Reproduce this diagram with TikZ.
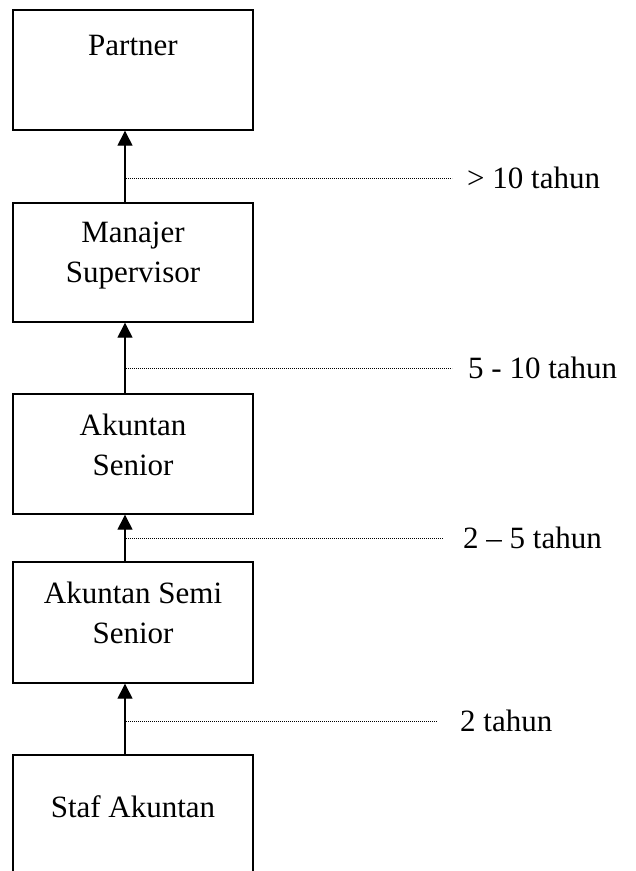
\documentclass[tikz,border=0pt]{standalone}
\usepackage{fontspec}
\setmainfont{Liberation Serif}
\usetikzlibrary{arrows.meta}
\begin{document}
\begin{tikzpicture}[x=1pt,y=-1pt,
  box/.style={draw, line width=1.4pt, rectangle, inner sep=0pt},
  txt/.style={anchor=base, inner sep=0pt, font=\fontsize{31}{40}\selectfont},
  lbl/.style={anchor=base west, inner sep=0pt, font=\fontsize{31}{40}\selectfont},
  arr/.style={line width=1.4pt, -{Triangle[width=15pt,length=15pt]}},
  dot/.style={line width=1pt, dash pattern=on 1.2pt off 0.8pt}]
\useasboundingbox (0,0) rectangle (636,871);
\clip (0,0) rectangle (636,871);
\fill[white] (0,0) rectangle (636,871);
% boxes
\node[box, minimum width=240pt, minimum height=120pt] (p) at (133,70) {};
\node[box, minimum width=240pt, minimum height=119pt] (m) at (133,262.5) {};
\node[box, minimum width=240pt, minimum height=120pt] (s) at (133,454) {};
\node[box, minimum width=240pt, minimum height=121pt] (ss) at (133,622.5) {};
\node[box, minimum width=240pt, minimum height=150pt] (st) at (133,830) {};
% texts
\node[txt] (tp) at (133,55) {Partner};
\node[txt] (tm1) at (133,242) {Manajer};
\node[txt] (tm2) at (133,282) {Supervisor};
\node[txt] (ts1) at (133,435) {Akuntan};
\node[txt] (ts2) at (133,475) {Senior};
\node[txt] (tss1) at (133,603) {Akuntan Semi};
\node[txt] (tss2) at (133,643) {Senior};
\node[txt] (tst) at (133,817) {Staf Akuntan};
% arrows
\coordinate (ax) at (125,0);
\draw[arr] (m.north -| ax) -- (p.south -| ax);
\draw[arr] (s.north -| ax) -- (m.south -| ax);
\draw[arr] (ss.north -| ax) -- (s.south -| ax);
\draw[arr] (st.north -| ax) -- (ss.south -| ax);
% dotted lines and labels
\coordinate (d1s) at (124,178); \coordinate (d1e) at (452,178);
\coordinate (d2s) at (124,368); \coordinate (d2e) at (452,368);
\coordinate (d3s) at (124,538); \coordinate (d3e) at (443,538);
\coordinate (d4s) at (124,721); \coordinate (d4e) at (437,721);
\draw[dot] (d1s) -- (d1e);
\draw[dot] (d2s) -- (d2e);
\draw[dot] (d3s) -- (d3e);
\draw[dot] (d4s) -- (d4e);
\node[lbl] (l1) at (467,188) {>\ 10 tahun};
\node[lbl] (l2) at (468,378) {5 - 10 tahun};
\node[lbl] (l3) at (463,548) {2 – 5 tahun};
\node[lbl] (l4) at (460,731) {2 tahun};
\end{tikzpicture}
\end{document}
